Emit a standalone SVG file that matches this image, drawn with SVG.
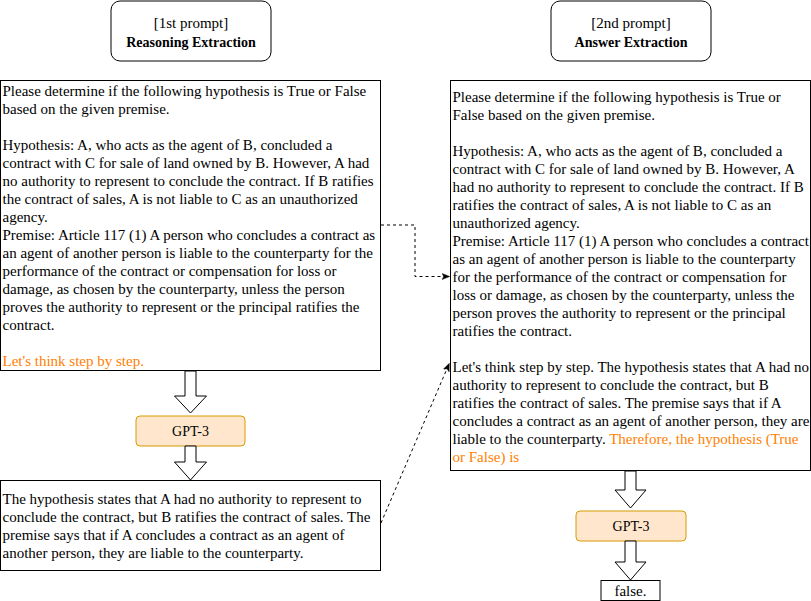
<svg xmlns="http://www.w3.org/2000/svg" width="811" height="601" viewBox="0 0 811 601">
<style>
text{font-size:15px;fill:#000}
.box{fill:#fff;stroke:#000;stroke-width:1}
.gpt{fill:#ffe6cc;stroke:#d79b00;stroke-width:1}
.flex{fill:#fff;stroke:#000;stroke-width:1;stroke-linejoin:miter}
.dash{fill:none;stroke:#000;stroke-width:1;stroke-dasharray:3 3}
.or{fill:#ff8000}
.b{font-weight:bold;font-size:14px}
.s{font-size:14px}
.c{text-anchor:middle}
</style>
<defs>
<marker id="ah" viewBox="0 0 10 10" refX="9" refY="5" markerWidth="8" markerHeight="8" orient="auto" markerUnits="userSpaceOnUse">
<path d="M0,1 L10,5 L0,9 L2.5,5 Z" fill="#000" stroke="#000" stroke-width="0.5"/>
</marker>
</defs>
<rect width="811" height="601" fill="#fff"/>
<g font-family="Liberation Serif, serif">

<g id="title1">
<rect class="box" x="111" y="1" width="160" height="60" rx="9"/>
<text class="c" x="191" y="28">[1st prompt]</text>
<text class="c b" x="191" y="46.5">Reasoning Extraction</text>
</g>

<g id="title2">
<rect class="box" x="551" y="1" width="160" height="60" rx="9"/>
<text class="c" x="631" y="28">[2nd prompt]</text>
<text class="c b" x="631" y="46.5">Answer Extraction</text>
</g>

<g id="prompt1">
<rect class="box" x="0.5" y="80.5" width="380" height="290"/>
<text x="2.5">
<tspan x="2.5" y="95.5">Please determine if the following hypothesis is True or False</tspan>
<tspan x="2.5" y="113.5">based on the given premise.</tspan>
<tspan x="2.5" y="149.5">Hypothesis: A, who acts as the agent of B, concluded a</tspan>
<tspan x="2.5" y="167.5">contract with C for sale of land owned by B. However, A had</tspan>
<tspan x="2.5" y="185.5">no authority to represent to conclude the contract. If B ratifies</tspan>
<tspan x="2.5" y="203.5">the contract of sales, A is not liable to C as an unauthorized</tspan>
<tspan x="2.5" y="221.5">agency.</tspan>
<tspan x="2.5" y="239.5">Premise: Article 117 (1) A person who concludes a contract as</tspan>
<tspan x="2.5" y="257.5">an agent of another person is liable to the counterparty for the</tspan>
<tspan x="2.5" y="275.5">performance of the contract or compensation for loss or</tspan>
<tspan x="2.5" y="293.5">damage, as chosen by the counterparty, unless the person</tspan>
<tspan x="2.5" y="311.5">proves the authority to represent or the principal ratifies the</tspan>
<tspan x="2.5" y="329.5">contract.</tspan>
<tspan x="2.5" y="365.5" class="or">Let's think step by step.</tspan>
</text>
</g>

<g id="gpt3a">
<rect class="gpt" x="136" y="416" width="109" height="30" rx="4"/>
<text class="c s" x="190.5" y="436">GPT-3</text>
</g>

<g id="reasoning">
<rect class="box" x="0.5" y="480.5" width="380" height="90"/>
<text x="2.5">
<tspan x="2.5" y="503.8">The hypothesis states that A had no authority to represent to</tspan>
<tspan x="2.5" y="521.8">conclude the contract, but B ratifies the contract of sales. The</tspan>
<tspan x="2.5" y="539.8">premise says that if A concludes a contract as an agent of</tspan>
<tspan x="2.5" y="557.8">another person, they are liable to the counterparty.</tspan>
</text>
</g>

<g id="prompt2">
<rect class="box" x="450.5" y="80.5" width="360" height="390"/>
<text x="452.5">
<tspan x="452.5" y="102.2">Please determine if the following hypothesis is True or</tspan>
<tspan x="452.5" y="120.2">False based on the given premise.</tspan>
<tspan x="452.5" y="156.2">Hypothesis: A, who acts as the agent of B, concluded a</tspan>
<tspan x="452.5" y="174.2">contract with C for sale of land owned by B. However, A</tspan>
<tspan x="452.5" y="192.2">had no authority to represent to conclude the contract. If B</tspan>
<tspan x="452.5" y="210.2">ratifies the contract of sales, A is not liable to C as an</tspan>
<tspan x="452.5" y="228.2">unauthorized agency.</tspan>
<tspan x="452.5" y="246.2">Premise: Article 117 (1) A person who concludes a contract</tspan>
<tspan x="452.5" y="264.2">as an agent of another person is liable to the counterparty</tspan>
<tspan x="452.5" y="282.2">for the performance of the contract or compensation for</tspan>
<tspan x="452.5" y="300.2">loss or damage, as chosen by the counterparty, unless the</tspan>
<tspan x="452.5" y="318.2">person proves the authority to represent or the principal</tspan>
<tspan x="452.5" y="336.2">ratifies the contract.</tspan>
<tspan x="452.5" y="372.2">Let's think step by step. The hypothesis states that A had no</tspan>
<tspan x="452.5" y="390.2">authority to represent to conclude the contract, but B</tspan>
<tspan x="452.5" y="408.2">ratifies the contract of sales. The premise says that if A</tspan>
<tspan x="452.5" y="426.2">concludes a contract as an agent of another person, they are</tspan>
<tspan x="452.5" y="444.2">liable to the counterparty. <tspan class="or">Therefore, the hypothesis (True</tspan></tspan>
<tspan x="452.5" y="462.2" class="or">or False) is</tspan>
</text>
</g>

<g id="gpt3b">
<rect class="gpt" x="576" y="511" width="110" height="30" rx="4"/>
<text class="c s" x="631" y="531">GPT-3</text>
</g>

<g id="answer">
<rect class="box" x="601" y="580.5" width="59" height="20"/>
<text class="c" x="630.5" y="595.5">false.</text>
</g>

</g>

<g id="connectors">
<path class="flex" d="M185,371 H196 V396 H206.5 L190.5,413 L174.5,396 H185 Z"/>
<path class="flex" d="M185,446 H196 V462 H206.5 L190.5,480 L174.5,462 H185 Z"/>
<path class="flex" d="M625,471 H636 V490 H646 L630.5,508 L615,490 H625 Z"/>
<path class="flex" d="M625,541 H636 V562 H646 L630.5,580 L615,562 H625 Z"/>
<path class="dash" d="M381,225 H415 V276.5 H449" marker-end="url(#ah)"/>
<path class="dash" d="M381,523 L449,364" marker-end="url(#ah)"/>
</g>
</svg>
